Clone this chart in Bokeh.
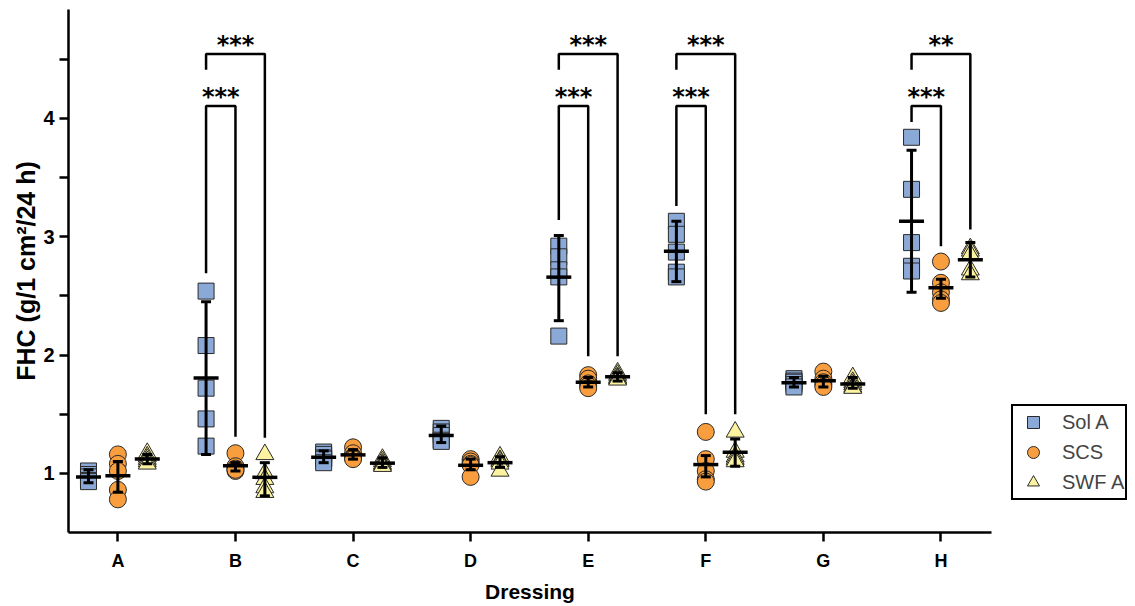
import numpy as np
from bokeh.plotting import figure
from bokeh.models import FixedTicker, Legend, LegendItem, Range1d
from bokeh.core.properties import value
from bokeh.embed import file_html
from bokeh.resources import INLINE

# ---------------- data ----------------
categories = ["A", "B", "C", "D", "E", "F", "G", "H"]
series_names = ["Sol A", "SCS", "SWF A"]

sol_a = [
    [1.02, 0.99, 0.97, 0.94, 0.93],
    [2.54, 2.08, 1.72, 1.46, 1.23],
    [1.18, 1.16, 1.13, 1.12, 1.09],
    [1.38, 1.35, 1.32, 1.28, 1.27],
    [2.92, 2.83, 2.72, 2.66, 2.16],
    [3.13, 3.02, 2.87, 2.70, 2.66],
    [1.80, 1.78, 1.77, 1.75, 1.73],
    [3.84, 3.40, 2.95, 2.75, 2.71],
]
scs = [
    [1.16, 1.08, 1.02, 0.86, 0.78],
    [1.17, 1.06, 1.04, 1.02, 1.03],
    [1.22, 1.17, 1.14, 1.13, 1.12],
    [1.12, 1.10, 1.08, 1.07, 0.97],
    [1.83, 1.80, 1.76, 1.74, 1.72],
    [1.35, 1.12, 1.02, 0.95, 0.93],
    [1.86, 1.80, 1.77, 1.75, 1.73],
    [2.79, 2.61, 2.53, 2.47, 2.44],
]
swf_a = [
    [1.17, 1.14, 1.12, 1.10, 1.08],
    [1.16, 1.00, 0.95, 0.88, 0.84],
    [1.12, 1.10, 1.08, 1.07, 1.06],
    [1.14, 1.11, 1.10, 1.08, 1.02],
    [1.85, 1.83, 1.81, 1.80, 1.79],
    [1.35, 1.18, 1.14, 1.12, 1.10],
    [1.81, 1.77, 1.75, 1.73, 1.72],
    [2.90, 2.88, 2.85, 2.72, 2.68],
]

# error bars (lower, upper)
sol_a_err_lo = [0.92, 1.16, 1.09, 1.26, 2.29, 2.62, 1.73, 2.53]
sol_a_err_hi = [1.03, 2.45, 1.19, 1.40, 3.01, 3.13, 1.81, 3.73]
scs_err_lo = [0.84, 1.02, 1.12, 1.03, 1.73, 0.97, 1.73, 2.48]
scs_err_hi = [1.10, 1.09, 1.20, 1.12, 1.81, 1.15, 1.82, 2.64]
swf_a_err_lo = [1.08, 0.81, 1.05, 1.05, 1.78, 1.06, 1.72, 2.66]
swf_a_err_hi = [1.16, 1.09, 1.13, 1.14, 1.85, 1.29, 1.81, 2.95]

# significance brackets (Sol A vs target)
sig_category = ["B", "B", "E", "E", "F", "F", "H", "H"]
sig_target = ["SCS", "SWF A", "SCS", "SWF A", "SCS", "SWF A", "SCS", "SWF A"]
sig_label = ["***", "***", "***", "***", "***", "***", "***", "**"]
sig_top = [4.105, 4.544, 4.105, 4.544, 4.105, 4.544, 4.105, 4.544]
sig_left_bottom = [2.69, 4.41, 3.14, 4.41, 3.26, 4.41, 3.97, 4.41]
sig_right_bottom = [1.31, 1.30, 1.99, 1.99, 1.50, 1.50, 2.92, 3.06]

# ---------------- style ----------------
offsets = {"Sol A": -0.25, "SCS": 0.0, "SWF A": 0.25}
markers = {"Sol A": "square", "SCS": "circle", "SWF A": "triangle"}
colors = {"Sol A": "#8BA9D6", "SCS": "#F89E3E", "SWF A": "#FCF3A0"}
sizes = {"Sol A": 16, "SCS": 17, "SWF A": 18}
FONT = "Liberation Sans"

p = figure(frame_width=923, frame_height=523, output_backend="svg", toolbar_location=None,
           x_range=Range1d(-0.42, 7.43), y_range=Range1d(0.5, 4.92),
           min_border_left=68, min_border_top=9, min_border_bottom=70,
           min_border_right=0)
p.outline_line_color = None
p.xgrid.visible = False
p.ygrid.visible = False

data = {"Sol A": (sol_a, sol_a_err_lo, sol_a_err_hi),
        "SCS": (scs, scs_err_lo, scs_err_hi),
        "SWF A": (swf_a, swf_a_err_lo, swf_a_err_hi)}

renderers = {}
for name in series_names:
    vals, lo, hi = data[name]
    xs = [i + offsets[name] for i, v in enumerate(vals) for _ in v]
    ys = [y for v in vals for y in v]
    r = p.scatter(xs, ys, marker=markers[name], size=sizes[name],
                  fill_color=colors[name], line_color="#2a2a2a", line_width=1)
    renderers[name] = r

for name in series_names:
    vals, lo, hi = data[name]
    cx = [i + offsets[name] for i in range(len(vals))]
    means = [float(np.mean(v)) for v in vals]
    p.segment(cx, lo, cx, hi, line_color="black", line_width=3)
    p.scatter(cx, lo, marker="dash", size=10, line_color="black", line_width=3)
    p.scatter(cx, hi, marker="dash", size=10, line_color="black", line_width=3)
    p.scatter(cx, means, marker="dash", size=25, line_color="black", line_width=3.5)

# brackets
for cat, tgt, lab, top, lb, rb in zip(sig_category, sig_target, sig_label,
                                       sig_top, sig_left_bottom, sig_right_bottom):
    i = categories.index(cat)
    x0 = i + offsets["Sol A"]
    x1 = i + offsets[tgt]
    p.line([x0, x0, x1, x1], [lb, top, top, rb], line_color="black", line_width=2.5)
    p.text([(x0 + x1) / 2], [top], text=[lab], text_align="center",
           text_baseline="bottom", text_font=value("DejaVu Sans"),
           text_font_style="bold", text_font_size="24px", y_offset=5,
           text_color="black")

# axes
for ax in (p.xaxis[0], p.yaxis[0]):
    ax.axis_line_width = 2.5
    ax.axis_line_color = "black"
    ax.major_tick_line_width = 2.5
    ax.major_tick_line_color = "black"
    ax.major_tick_in = 0
    ax.major_tick_out = 9
    ax.major_label_text_font = FONT
    ax.major_label_text_font_style = "bold"
    ax.major_label_text_font_size = "18px"
    ax.major_label_text_color = "black"
    ax.axis_label_text_font = FONT
    ax.axis_label_text_font_style = "bold"
    ax.axis_label_text_font_size = "21px"
    ax.axis_label_text_color = "black"

p.xaxis.ticker = FixedTicker(ticks=list(range(len(categories))))
p.xaxis.major_label_overrides = {i: c for i, c in enumerate(categories)}
p.xaxis.minor_tick_line_color = None
p.xaxis.major_label_standoff = 9
p.xaxis.axis_label = "Dressing"
p.xaxis.axis_label_standoff = 6

p.yaxis.ticker = FixedTicker(ticks=[1, 2, 3, 4], minor_ticks=[1.5, 2.5, 3.5, 4.5])
p.yaxis.minor_tick_in = 0
p.yaxis.minor_tick_out = 9
p.yaxis.minor_tick_line_width = 2.5
p.yaxis.minor_tick_line_color = "black"
p.yaxis.major_label_standoff = 5
p.yaxis.major_label_text_font_size = "20px"
p.yaxis.axis_label = "FHC (g/1 cm²/24 h)"
p.yaxis.axis_label_text_font_size = "25px"
p.yaxis.axis_label_standoff = 0

legend = Legend(items=[LegendItem(label=n, renderers=[renderers[n]]) for n in series_names],
                location=(20, 32), margin=0, padding=1, spacing=0,
                glyph_width=38, glyph_height=30, label_height=20, label_standoff=10,
                label_text_font=FONT, label_text_font_size="20px",
                border_line_color="black", border_line_width=2, border_line_alpha=1.0,
                background_fill_color="white", background_fill_alpha=1.0)
p.add_layout(legend, "right")

open("out.html", "w").write(file_html(p, INLINE))
